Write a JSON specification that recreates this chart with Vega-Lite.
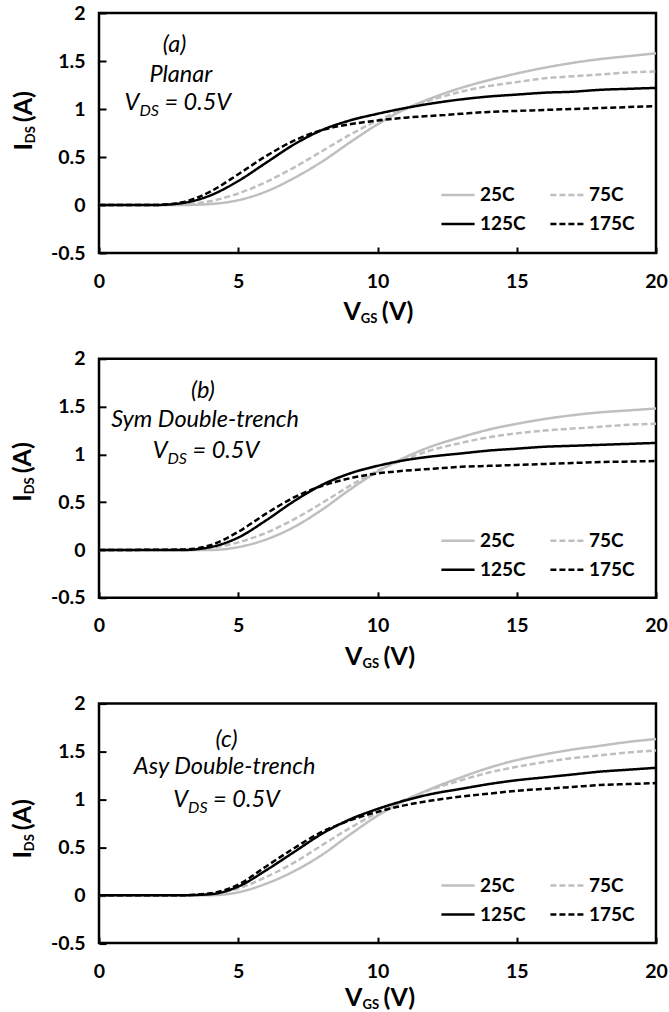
{
"$schema":"https://vega.github.io/schema/vega-lite/v6.json",
"background":"white",
"padding":{"left":9,"top":1,"right":0,"bottom":0},
"spacing":105.8,
"bounds":"flush",
"resolve":{"scale":{"stroke":"independent","strokeDash":"independent"},"legend":{"stroke":"independent","strokeDash":"independent"}},
"config":{
 "font":"Lato",
 "view":{"stroke":"black","strokeWidth":2.5},
 "axis":{"grid":false,"domain":false,"tickColor":"black","tickWidth":2,"labelFont":"Lato","labelFontWeight":"bold","labelFontSize":19.5,"labelColor":"black","labelFlush":false,"labelOverlap":false},
 "legend":{"orient":"none","legendX":341,"legendY":164,"columns":2,"direction":"horizontal","symbolType":"stroke","symbolSize":1100,"symbolStrokeWidth":2.5,"labelFont":"Lato","labelFontWeight":"bold","labelFontSize":19,"labelColor":"black","labelOffset":4,"columnPadding":19,"rowPadding":1,"padding":0}
},
"datasets":{
"curves":[
{"p":"a","T":"25C","x":0,"y":0},{"p":"a","T":"25C","x":3,"y":0},{"p":"a","T":"25C","x":4,"y":0.01},{"p":"a","T":"25C","x":5,"y":0.05},{"p":"a","T":"25C","x":6,"y":0.14},{"p":"a","T":"25C","x":7,"y":0.28},{"p":"a","T":"25C","x":8,"y":0.45},{"p":"a","T":"25C","x":9,"y":0.65},{"p":"a","T":"25C","x":10,"y":0.84},{"p":"a","T":"25C","x":11,"y":1.0},{"p":"a","T":"25C","x":12,"y":1.12},{"p":"a","T":"25C","x":13,"y":1.22},{"p":"a","T":"25C","x":14,"y":1.3},{"p":"a","T":"25C","x":15,"y":1.37},{"p":"a","T":"25C","x":16,"y":1.43},{"p":"a","T":"25C","x":17,"y":1.48},{"p":"a","T":"25C","x":18,"y":1.52},{"p":"a","T":"25C","x":19,"y":1.55},{"p":"a","T":"25C","x":20,"y":1.58},
{"p":"a","T":"75C","x":0,"y":0},{"p":"a","T":"75C","x":2.5,"y":0},{"p":"a","T":"75C","x":3,"y":0.005},{"p":"a","T":"75C","x":4,"y":0.04},{"p":"a","T":"75C","x":5,"y":0.12},{"p":"a","T":"75C","x":6,"y":0.24},{"p":"a","T":"75C","x":7,"y":0.39},{"p":"a","T":"75C","x":8,"y":0.56},{"p":"a","T":"75C","x":9,"y":0.73},{"p":"a","T":"75C","x":10,"y":0.88},{"p":"a","T":"75C","x":11,"y":1.0},{"p":"a","T":"75C","x":12,"y":1.1},{"p":"a","T":"75C","x":13,"y":1.18},{"p":"a","T":"75C","x":14,"y":1.24},{"p":"a","T":"75C","x":15,"y":1.28},{"p":"a","T":"75C","x":16,"y":1.32},{"p":"a","T":"75C","x":17,"y":1.34},{"p":"a","T":"75C","x":18,"y":1.36},{"p":"a","T":"75C","x":19,"y":1.38},{"p":"a","T":"75C","x":20,"y":1.39},
{"p":"a","T":"125C","x":0,"y":0},{"p":"a","T":"125C","x":2,"y":0},{"p":"a","T":"125C","x":3,"y":0.02},{"p":"a","T":"125C","x":4,"y":0.1},{"p":"a","T":"125C","x":5,"y":0.25},{"p":"a","T":"125C","x":6,"y":0.44},{"p":"a","T":"125C","x":7,"y":0.63},{"p":"a","T":"125C","x":8,"y":0.78},{"p":"a","T":"125C","x":9,"y":0.88},{"p":"a","T":"125C","x":10,"y":0.95},{"p":"a","T":"125C","x":11,"y":1.01},{"p":"a","T":"125C","x":12,"y":1.06},{"p":"a","T":"125C","x":13,"y":1.1},{"p":"a","T":"125C","x":14,"y":1.13},{"p":"a","T":"125C","x":15,"y":1.15},{"p":"a","T":"125C","x":16,"y":1.17},{"p":"a","T":"125C","x":17,"y":1.18},{"p":"a","T":"125C","x":18,"y":1.2},{"p":"a","T":"125C","x":19,"y":1.21},{"p":"a","T":"125C","x":20,"y":1.22},
{"p":"a","T":"175C","x":0,"y":0},{"p":"a","T":"175C","x":2,"y":0},{"p":"a","T":"175C","x":3,"y":0.03},{"p":"a","T":"175C","x":4,"y":0.14},{"p":"a","T":"175C","x":5,"y":0.32},{"p":"a","T":"175C","x":6,"y":0.51},{"p":"a","T":"175C","x":7,"y":0.67},{"p":"a","T":"175C","x":8,"y":0.78},{"p":"a","T":"175C","x":9,"y":0.84},{"p":"a","T":"175C","x":10,"y":0.88},{"p":"a","T":"175C","x":11,"y":0.91},{"p":"a","T":"175C","x":12,"y":0.93},{"p":"a","T":"175C","x":13,"y":0.95},{"p":"a","T":"175C","x":14,"y":0.97},{"p":"a","T":"175C","x":15,"y":0.98},{"p":"a","T":"175C","x":16,"y":0.99},{"p":"a","T":"175C","x":17,"y":1.0},{"p":"a","T":"175C","x":18,"y":1.01},{"p":"a","T":"175C","x":19,"y":1.02},{"p":"a","T":"175C","x":20,"y":1.03},
{"p":"b","T":"25C","x":0,"y":0},{"p":"b","T":"25C","x":4,"y":0},{"p":"b","T":"25C","x":5,"y":0.03},{"p":"b","T":"25C","x":6,"y":0.11},{"p":"b","T":"25C","x":7,"y":0.24},{"p":"b","T":"25C","x":8,"y":0.42},{"p":"b","T":"25C","x":9,"y":0.63},{"p":"b","T":"25C","x":10,"y":0.82},{"p":"b","T":"25C","x":11,"y":0.97},{"p":"b","T":"25C","x":12,"y":1.09},{"p":"b","T":"25C","x":13,"y":1.18},{"p":"b","T":"25C","x":14,"y":1.26},{"p":"b","T":"25C","x":15,"y":1.32},{"p":"b","T":"25C","x":16,"y":1.37},{"p":"b","T":"25C","x":17,"y":1.41},{"p":"b","T":"25C","x":18,"y":1.44},{"p":"b","T":"25C","x":19,"y":1.46},{"p":"b","T":"25C","x":20,"y":1.48},
{"p":"b","T":"75C","x":0,"y":0},{"p":"b","T":"75C","x":3.5,"y":0},{"p":"b","T":"75C","x":4,"y":0.02},{"p":"b","T":"75C","x":5,"y":0.08},{"p":"b","T":"75C","x":6,"y":0.18},{"p":"b","T":"75C","x":7,"y":0.32},{"p":"b","T":"75C","x":8,"y":0.49},{"p":"b","T":"75C","x":9,"y":0.67},{"p":"b","T":"75C","x":10,"y":0.83},{"p":"b","T":"75C","x":11,"y":0.95},{"p":"b","T":"75C","x":12,"y":1.05},{"p":"b","T":"75C","x":13,"y":1.12},{"p":"b","T":"75C","x":14,"y":1.18},{"p":"b","T":"75C","x":15,"y":1.22},{"p":"b","T":"75C","x":16,"y":1.25},{"p":"b","T":"75C","x":17,"y":1.27},{"p":"b","T":"75C","x":18,"y":1.29},{"p":"b","T":"75C","x":19,"y":1.31},{"p":"b","T":"75C","x":20,"y":1.32},
{"p":"b","T":"125C","x":0,"y":0},{"p":"b","T":"125C","x":3,"y":0},{"p":"b","T":"125C","x":4,"y":0.03},{"p":"b","T":"125C","x":5,"y":0.13},{"p":"b","T":"125C","x":6,"y":0.31},{"p":"b","T":"125C","x":7,"y":0.51},{"p":"b","T":"125C","x":8,"y":0.68},{"p":"b","T":"125C","x":9,"y":0.8},{"p":"b","T":"125C","x":10,"y":0.88},{"p":"b","T":"125C","x":11,"y":0.94},{"p":"b","T":"125C","x":12,"y":0.98},{"p":"b","T":"125C","x":13,"y":1.01},{"p":"b","T":"125C","x":14,"y":1.04},{"p":"b","T":"125C","x":15,"y":1.06},{"p":"b","T":"125C","x":16,"y":1.08},{"p":"b","T":"125C","x":17,"y":1.09},{"p":"b","T":"125C","x":18,"y":1.1},{"p":"b","T":"125C","x":19,"y":1.11},{"p":"b","T":"125C","x":20,"y":1.12},
{"p":"b","T":"175C","x":0,"y":0},{"p":"b","T":"175C","x":3,"y":0.005},{"p":"b","T":"175C","x":4,"y":0.05},{"p":"b","T":"175C","x":5,"y":0.19},{"p":"b","T":"175C","x":6,"y":0.38},{"p":"b","T":"175C","x":7,"y":0.55},{"p":"b","T":"175C","x":8,"y":0.67},{"p":"b","T":"175C","x":9,"y":0.75},{"p":"b","T":"175C","x":10,"y":0.8},{"p":"b","T":"175C","x":11,"y":0.83},{"p":"b","T":"175C","x":12,"y":0.85},{"p":"b","T":"175C","x":13,"y":0.87},{"p":"b","T":"175C","x":14,"y":0.88},{"p":"b","T":"175C","x":15,"y":0.89},{"p":"b","T":"175C","x":16,"y":0.9},{"p":"b","T":"175C","x":17,"y":0.91},{"p":"b","T":"175C","x":18,"y":0.92},{"p":"b","T":"175C","x":19,"y":0.925},{"p":"b","T":"175C","x":20,"y":0.93},
{"p":"c","T":"25C","x":0,"y":0},{"p":"c","T":"25C","x":4,"y":0},{"p":"c","T":"25C","x":5,"y":0.03},{"p":"c","T":"25C","x":6,"y":0.12},{"p":"c","T":"25C","x":7,"y":0.25},{"p":"c","T":"25C","x":8,"y":0.42},{"p":"c","T":"25C","x":9,"y":0.63},{"p":"c","T":"25C","x":10,"y":0.83},{"p":"c","T":"25C","x":11,"y":0.99},{"p":"c","T":"25C","x":12,"y":1.12},{"p":"c","T":"25C","x":13,"y":1.23},{"p":"c","T":"25C","x":14,"y":1.33},{"p":"c","T":"25C","x":15,"y":1.41},{"p":"c","T":"25C","x":16,"y":1.47},{"p":"c","T":"25C","x":17,"y":1.52},{"p":"c","T":"25C","x":18,"y":1.56},{"p":"c","T":"25C","x":19,"y":1.6},{"p":"c","T":"25C","x":20,"y":1.63},
{"p":"c","T":"75C","x":0,"y":0},{"p":"c","T":"75C","x":3.5,"y":0},{"p":"c","T":"75C","x":4,"y":0.01},{"p":"c","T":"75C","x":5,"y":0.07},{"p":"c","T":"75C","x":6,"y":0.19},{"p":"c","T":"75C","x":7,"y":0.34},{"p":"c","T":"75C","x":8,"y":0.52},{"p":"c","T":"75C","x":9,"y":0.7},{"p":"c","T":"75C","x":10,"y":0.86},{"p":"c","T":"75C","x":11,"y":1.0},{"p":"c","T":"75C","x":12,"y":1.11},{"p":"c","T":"75C","x":13,"y":1.2},{"p":"c","T":"75C","x":14,"y":1.28},{"p":"c","T":"75C","x":15,"y":1.34},{"p":"c","T":"75C","x":16,"y":1.39},{"p":"c","T":"75C","x":17,"y":1.43},{"p":"c","T":"75C","x":18,"y":1.46},{"p":"c","T":"75C","x":19,"y":1.49},{"p":"c","T":"75C","x":20,"y":1.51},
{"p":"c","T":"125C","x":0,"y":0},{"p":"c","T":"125C","x":3,"y":0},{"p":"c","T":"125C","x":4,"y":0.01},{"p":"c","T":"125C","x":5,"y":0.09},{"p":"c","T":"125C","x":6,"y":0.26},{"p":"c","T":"125C","x":7,"y":0.45},{"p":"c","T":"125C","x":8,"y":0.64},{"p":"c","T":"125C","x":9,"y":0.79},{"p":"c","T":"125C","x":10,"y":0.9},{"p":"c","T":"125C","x":11,"y":0.99},{"p":"c","T":"125C","x":12,"y":1.06},{"p":"c","T":"125C","x":13,"y":1.11},{"p":"c","T":"125C","x":14,"y":1.16},{"p":"c","T":"125C","x":15,"y":1.2},{"p":"c","T":"125C","x":16,"y":1.23},{"p":"c","T":"125C","x":17,"y":1.26},{"p":"c","T":"125C","x":18,"y":1.29},{"p":"c","T":"125C","x":19,"y":1.31},{"p":"c","T":"125C","x":20,"y":1.33},
{"p":"c","T":"175C","x":0,"y":0},{"p":"c","T":"175C","x":3,"y":0},{"p":"c","T":"175C","x":4,"y":0.02},{"p":"c","T":"175C","x":5,"y":0.11},{"p":"c","T":"175C","x":6,"y":0.3},{"p":"c","T":"175C","x":7,"y":0.49},{"p":"c","T":"175C","x":8,"y":0.66},{"p":"c","T":"175C","x":9,"y":0.78},{"p":"c","T":"175C","x":10,"y":0.87},{"p":"c","T":"175C","x":11,"y":0.94},{"p":"c","T":"175C","x":12,"y":0.99},{"p":"c","T":"175C","x":13,"y":1.03},{"p":"c","T":"175C","x":14,"y":1.06},{"p":"c","T":"175C","x":15,"y":1.09},{"p":"c","T":"175C","x":16,"y":1.11},{"p":"c","T":"175C","x":17,"y":1.13},{"p":"c","T":"175C","x":18,"y":1.15},{"p":"c","T":"175C","x":19,"y":1.16},{"p":"c","T":"175C","x":20,"y":1.17}
],
"notes":[
{"p":"a","r":"tag","x":2.71,"y":1.59,"t":"(a)"},
{"p":"a","r":"tag","x":2.94,"y":1.278,"t":"Planar"},
{"p":"a","r":"big","x":1.45,"y":0.993,"t":"V"},
{"p":"a","r":"sub","x":1.45,"y":0.993,"t":"DS"},
{"p":"a","r":"rest","x":1.45,"y":0.993,"t":"= 0.5V"},
{"p":"a","r":"xbig","x":9.4,"y":-1.2,"t":"V"},
{"p":"a","r":"xsub","x":9.4,"y":-1.2,"t":"GS"},
{"p":"a","r":"xrest","x":9.4,"y":-1.2,"t":"(V)"},
{"p":"a","r":"ybig","x":-2.4,"y":0.644,"t":"I"},
{"p":"a","r":"ysub","x":-2.4,"y":0.644,"t":"DS"},
{"p":"a","r":"yrest","x":-2.4,"y":0.644,"t":"(A)"},
{"p":"b","r":"tag","x":3.73,"y":1.59,"t":"(b)"},
{"p":"b","r":"tag","x":3.81,"y":1.29,"t":"Sym Double-trench"},
{"p":"b","r":"big","x":2.46,"y":0.958,"t":"V"},
{"p":"b","r":"sub","x":2.46,"y":0.958,"t":"DS"},
{"p":"b","r":"rest","x":2.46,"y":0.958,"t":"= 0.5V"},
{"p":"b","r":"xbig","x":9.46,"y":-1.2,"t":"V"},
{"p":"b","r":"xsub","x":9.46,"y":-1.2,"t":"GS"},
{"p":"b","r":"xrest","x":9.46,"y":-1.2,"t":"(V)"},
{"p":"b","r":"ybig","x":-2.45,"y":0.583,"t":"I"},
{"p":"b","r":"ysub","x":-2.45,"y":0.583,"t":"DS"},
{"p":"b","r":"yrest","x":-2.45,"y":0.583,"t":"(A)"},
{"p":"c","r":"tag","x":4.58,"y":1.55,"t":"(c)"},
{"p":"c","r":"tag","x":4.51,"y":1.26,"t":"Asy Double-trench"},
{"p":"c","r":"big","x":3.2,"y":0.92,"t":"V"},
{"p":"c","r":"sub","x":3.2,"y":0.92,"t":"DS"},
{"p":"c","r":"rest","x":3.2,"y":0.92,"t":"= 0.5V"},
{"p":"c","r":"xbig","x":9.46,"y":-1.155,"t":"V"},
{"p":"c","r":"xsub","x":9.46,"y":-1.155,"t":"GS"},
{"p":"c","r":"xrest","x":9.46,"y":-1.155,"t":"(V)"},
{"p":"c","r":"ybig","x":-2.45,"y":0.46,"t":"I"},
{"p":"c","r":"ysub","x":-2.45,"y":0.46,"t":"DS"},
{"p":"c","r":"yrest","x":-2.45,"y":0.46,"t":"(A)"}
]
},
"vconcat":[
{"width":557,"height":240,"layer":[
 {"data":{"name":"curves"},"transform":[{"filter":"datum.p==='a'"}],"mark":{"type":"line","interpolate":"monotone","strokeWidth":2.5},"encoding":{
  "x":{"field":"x","type":"quantitative","scale":{"domain":[0,20],"nice":false},"axis":{"values":[0,5,10,15,20],"tickSize":-6,"labelPadding":25,"title":null}},
  "y":{"field":"y","type":"quantitative","scale":{"domain":[-0.5,2],"nice":false},"axis":{"values":[-0.5,0,0.5,1,1.5,2],"tickSize":-7,"labelPadding":21,"labelExpr":"''+datum.value","title":null}},
  "stroke":{"field":"T","type":"nominal","scale":{"domain":["25C","75C","125C","175C"],"range":["#bfbfbf","#bfbfbf","#000000","#000000"]},"legend":{"title":null}},
  "strokeDash":{"field":"T","type":"nominal","scale":{"domain":["25C","75C","125C","175C"],"range":[[1,0],[6,3],[1,0],[6,3]]},"legend":{"title":null}}}},
 {"data":{"name":"notes"},"transform":[{"filter":"datum.p==='a'&&datum.r==='tag'"}],"mark":{"type":"text","font":"Lato","fontSize":23.5,"fontStyle":"italic","align":"center","baseline":"alphabetic","color":"black"},"encoding":{"x":{"field":"x","type":"quantitative"},"y":{"field":"y","type":"quantitative"},"text":{"field":"t"}}},
 {"data":{"name":"notes"},"transform":[{"filter":"datum.p==='a'&&datum.r==='big'"}],"mark":{"type":"text","font":"Lato","fontSize":23.5,"fontStyle":"italic","align":"right","baseline":"alphabetic","color":"black"},"encoding":{"x":{"field":"x","type":"quantitative"},"y":{"field":"y","type":"quantitative"},"text":{"field":"t"}}},
 {"data":{"name":"notes"},"transform":[{"filter":"datum.p==='a'&&datum.r==='sub'"}],"mark":{"type":"text","font":"Lato","fontSize":16,"fontStyle":"italic","align":"left","baseline":"alphabetic","dy":6,"color":"black"},"encoding":{"x":{"field":"x","type":"quantitative"},"y":{"field":"y","type":"quantitative"},"text":{"field":"t"}}},
 {"data":{"name":"notes"},"transform":[{"filter":"datum.p==='a'&&datum.r==='rest'"}],"mark":{"type":"text","font":"Lato","fontSize":23.5,"fontStyle":"italic","align":"left","baseline":"alphabetic","dx":25,"color":"black"},"encoding":{"x":{"field":"x","type":"quantitative"},"y":{"field":"y","type":"quantitative"},"text":{"field":"t"}}},
 {"data":{"name":"notes"},"transform":[{"filter":"datum.p==='a'&&datum.r==='xbig'"}],"mark":{"type":"text","font":"Lato","fontSize":25,"fontWeight":"bold","align":"right","baseline":"alphabetic","color":"black"},"encoding":{"x":{"field":"x","type":"quantitative"},"y":{"field":"y","type":"quantitative"},"text":{"field":"t"}}},
 {"data":{"name":"notes"},"transform":[{"filter":"datum.p==='a'&&datum.r==='xsub'"}],"mark":{"type":"text","font":"Lato","fontSize":13,"fontWeight":"bold","align":"left","baseline":"alphabetic","dy":3,"color":"black"},"encoding":{"x":{"field":"x","type":"quantitative"},"y":{"field":"y","type":"quantitative"},"text":{"field":"t"}}},
 {"data":{"name":"notes"},"transform":[{"filter":"datum.p==='a'&&datum.r==='xrest'"}],"mark":{"type":"text","font":"Lato","fontSize":25,"fontWeight":"bold","align":"left","baseline":"alphabetic","dx":21,"color":"black"},"encoding":{"x":{"field":"x","type":"quantitative"},"y":{"field":"y","type":"quantitative"},"text":{"field":"t"}}},
 {"data":{"name":"notes"},"transform":[{"filter":"datum.p==='a'&&datum.r==='ybig'"}],"mark":{"type":"text","font":"Lato","fontSize":25,"fontWeight":"bold","align":"right","baseline":"alphabetic","angle":270,"color":"black"},"encoding":{"x":{"field":"x","type":"quantitative"},"y":{"field":"y","type":"quantitative"},"text":{"field":"t"}}},
 {"data":{"name":"notes"},"transform":[{"filter":"datum.p==='a'&&datum.r==='ysub'"}],"mark":{"type":"text","font":"Lato","fontSize":13,"fontWeight":"bold","align":"left","baseline":"alphabetic","angle":270,"dy":3,"color":"black"},"encoding":{"x":{"field":"x","type":"quantitative"},"y":{"field":"y","type":"quantitative"},"text":{"field":"t"}}},
 {"data":{"name":"notes"},"transform":[{"filter":"datum.p==='a'&&datum.r==='yrest'"}],"mark":{"type":"text","font":"Lato","fontSize":25,"fontWeight":"bold","align":"left","baseline":"alphabetic","angle":270,"dx":21,"color":"black"},"encoding":{"x":{"field":"x","type":"quantitative"},"y":{"field":"y","type":"quantitative"},"text":{"field":"t"}}}
]},
{"width":557,"height":239,"layer":[
 {"data":{"name":"curves"},"transform":[{"filter":"datum.p==='b'"}],"mark":{"type":"line","interpolate":"monotone","strokeWidth":2.5},"encoding":{
  "x":{"field":"x","type":"quantitative","scale":{"domain":[0,20],"nice":false},"axis":{"values":[0,5,10,15,20],"tickSize":-6,"labelPadding":25,"title":null}},
  "y":{"field":"y","type":"quantitative","scale":{"domain":[-0.5,2],"nice":false},"axis":{"values":[-0.5,0,0.5,1,1.5,2],"tickSize":-7,"labelPadding":21,"labelExpr":"''+datum.value","title":null}},
  "stroke":{"field":"T","type":"nominal","scale":{"domain":["25C","75C","125C","175C"],"range":["#bfbfbf","#bfbfbf","#000000","#000000"]},"legend":{"title":null}},
  "strokeDash":{"field":"T","type":"nominal","scale":{"domain":["25C","75C","125C","175C"],"range":[[1,0],[6,3],[1,0],[6,3]]},"legend":{"title":null}}}},
 {"data":{"name":"notes"},"transform":[{"filter":"datum.p==='b'&&datum.r==='tag'"}],"mark":{"type":"text","font":"Lato","fontSize":23.5,"fontStyle":"italic","align":"center","baseline":"alphabetic","color":"black"},"encoding":{"x":{"field":"x","type":"quantitative"},"y":{"field":"y","type":"quantitative"},"text":{"field":"t"}}},
 {"data":{"name":"notes"},"transform":[{"filter":"datum.p==='b'&&datum.r==='big'"}],"mark":{"type":"text","font":"Lato","fontSize":23.5,"fontStyle":"italic","align":"right","baseline":"alphabetic","color":"black"},"encoding":{"x":{"field":"x","type":"quantitative"},"y":{"field":"y","type":"quantitative"},"text":{"field":"t"}}},
 {"data":{"name":"notes"},"transform":[{"filter":"datum.p==='b'&&datum.r==='sub'"}],"mark":{"type":"text","font":"Lato","fontSize":16,"fontStyle":"italic","align":"left","baseline":"alphabetic","dy":6,"color":"black"},"encoding":{"x":{"field":"x","type":"quantitative"},"y":{"field":"y","type":"quantitative"},"text":{"field":"t"}}},
 {"data":{"name":"notes"},"transform":[{"filter":"datum.p==='b'&&datum.r==='rest'"}],"mark":{"type":"text","font":"Lato","fontSize":23.5,"fontStyle":"italic","align":"left","baseline":"alphabetic","dx":25,"color":"black"},"encoding":{"x":{"field":"x","type":"quantitative"},"y":{"field":"y","type":"quantitative"},"text":{"field":"t"}}},
 {"data":{"name":"notes"},"transform":[{"filter":"datum.p==='b'&&datum.r==='xbig'"}],"mark":{"type":"text","font":"Lato","fontSize":25,"fontWeight":"bold","align":"right","baseline":"alphabetic","color":"black"},"encoding":{"x":{"field":"x","type":"quantitative"},"y":{"field":"y","type":"quantitative"},"text":{"field":"t"}}},
 {"data":{"name":"notes"},"transform":[{"filter":"datum.p==='b'&&datum.r==='xsub'"}],"mark":{"type":"text","font":"Lato","fontSize":13,"fontWeight":"bold","align":"left","baseline":"alphabetic","dy":3,"color":"black"},"encoding":{"x":{"field":"x","type":"quantitative"},"y":{"field":"y","type":"quantitative"},"text":{"field":"t"}}},
 {"data":{"name":"notes"},"transform":[{"filter":"datum.p==='b'&&datum.r==='xrest'"}],"mark":{"type":"text","font":"Lato","fontSize":25,"fontWeight":"bold","align":"left","baseline":"alphabetic","dx":21,"color":"black"},"encoding":{"x":{"field":"x","type":"quantitative"},"y":{"field":"y","type":"quantitative"},"text":{"field":"t"}}},
 {"data":{"name":"notes"},"transform":[{"filter":"datum.p==='b'&&datum.r==='ybig'"}],"mark":{"type":"text","font":"Lato","fontSize":25,"fontWeight":"bold","align":"right","baseline":"alphabetic","angle":270,"color":"black"},"encoding":{"x":{"field":"x","type":"quantitative"},"y":{"field":"y","type":"quantitative"},"text":{"field":"t"}}},
 {"data":{"name":"notes"},"transform":[{"filter":"datum.p==='b'&&datum.r==='ysub'"}],"mark":{"type":"text","font":"Lato","fontSize":13,"fontWeight":"bold","align":"left","baseline":"alphabetic","angle":270,"dy":3,"color":"black"},"encoding":{"x":{"field":"x","type":"quantitative"},"y":{"field":"y","type":"quantitative"},"text":{"field":"t"}}},
 {"data":{"name":"notes"},"transform":[{"filter":"datum.p==='b'&&datum.r==='yrest'"}],"mark":{"type":"text","font":"Lato","fontSize":25,"fontWeight":"bold","align":"left","baseline":"alphabetic","angle":270,"dx":21,"color":"black"},"encoding":{"x":{"field":"x","type":"quantitative"},"y":{"field":"y","type":"quantitative"},"text":{"field":"t"}}}
]},
{"width":557,"height":239.5,"layer":[
 {"data":{"name":"curves"},"transform":[{"filter":"datum.p==='c'"}],"mark":{"type":"line","interpolate":"monotone","strokeWidth":2.5},"encoding":{
  "x":{"field":"x","type":"quantitative","scale":{"domain":[0,20],"nice":false},"axis":{"values":[0,5,10,15,20],"tickSize":-6,"labelPadding":25,"title":null}},
  "y":{"field":"y","type":"quantitative","scale":{"domain":[-0.5,2],"nice":false},"axis":{"values":[-0.5,0,0.5,1,1.5,2],"tickSize":-7,"labelPadding":21,"labelExpr":"''+datum.value","title":null}},
  "stroke":{"field":"T","type":"nominal","scale":{"domain":["25C","75C","125C","175C"],"range":["#bfbfbf","#bfbfbf","#000000","#000000"]},"legend":{"title":null}},
  "strokeDash":{"field":"T","type":"nominal","scale":{"domain":["25C","75C","125C","175C"],"range":[[1,0],[6,3],[1,0],[6,3]]},"legend":{"title":null}}}},
 {"data":{"name":"notes"},"transform":[{"filter":"datum.p==='c'&&datum.r==='tag'"}],"mark":{"type":"text","font":"Lato","fontSize":23.5,"fontStyle":"italic","align":"center","baseline":"alphabetic","color":"black"},"encoding":{"x":{"field":"x","type":"quantitative"},"y":{"field":"y","type":"quantitative"},"text":{"field":"t"}}},
 {"data":{"name":"notes"},"transform":[{"filter":"datum.p==='c'&&datum.r==='big'"}],"mark":{"type":"text","font":"Lato","fontSize":23.5,"fontStyle":"italic","align":"right","baseline":"alphabetic","color":"black"},"encoding":{"x":{"field":"x","type":"quantitative"},"y":{"field":"y","type":"quantitative"},"text":{"field":"t"}}},
 {"data":{"name":"notes"},"transform":[{"filter":"datum.p==='c'&&datum.r==='sub'"}],"mark":{"type":"text","font":"Lato","fontSize":16,"fontStyle":"italic","align":"left","baseline":"alphabetic","dy":6,"color":"black"},"encoding":{"x":{"field":"x","type":"quantitative"},"y":{"field":"y","type":"quantitative"},"text":{"field":"t"}}},
 {"data":{"name":"notes"},"transform":[{"filter":"datum.p==='c'&&datum.r==='rest'"}],"mark":{"type":"text","font":"Lato","fontSize":23.5,"fontStyle":"italic","align":"left","baseline":"alphabetic","dx":25,"color":"black"},"encoding":{"x":{"field":"x","type":"quantitative"},"y":{"field":"y","type":"quantitative"},"text":{"field":"t"}}},
 {"data":{"name":"notes"},"transform":[{"filter":"datum.p==='c'&&datum.r==='xbig'"}],"mark":{"type":"text","font":"Lato","fontSize":25,"fontWeight":"bold","align":"right","baseline":"alphabetic","color":"black"},"encoding":{"x":{"field":"x","type":"quantitative"},"y":{"field":"y","type":"quantitative"},"text":{"field":"t"}}},
 {"data":{"name":"notes"},"transform":[{"filter":"datum.p==='c'&&datum.r==='xsub'"}],"mark":{"type":"text","font":"Lato","fontSize":13,"fontWeight":"bold","align":"left","baseline":"alphabetic","dy":3,"color":"black"},"encoding":{"x":{"field":"x","type":"quantitative"},"y":{"field":"y","type":"quantitative"},"text":{"field":"t"}}},
 {"data":{"name":"notes"},"transform":[{"filter":"datum.p==='c'&&datum.r==='xrest'"}],"mark":{"type":"text","font":"Lato","fontSize":25,"fontWeight":"bold","align":"left","baseline":"alphabetic","dx":21,"color":"black"},"encoding":{"x":{"field":"x","type":"quantitative"},"y":{"field":"y","type":"quantitative"},"text":{"field":"t"}}},
 {"data":{"name":"notes"},"transform":[{"filter":"datum.p==='c'&&datum.r==='ybig'"}],"mark":{"type":"text","font":"Lato","fontSize":25,"fontWeight":"bold","align":"right","baseline":"alphabetic","angle":270,"color":"black"},"encoding":{"x":{"field":"x","type":"quantitative"},"y":{"field":"y","type":"quantitative"},"text":{"field":"t"}}},
 {"data":{"name":"notes"},"transform":[{"filter":"datum.p==='c'&&datum.r==='ysub'"}],"mark":{"type":"text","font":"Lato","fontSize":13,"fontWeight":"bold","align":"left","baseline":"alphabetic","angle":270,"dy":3,"color":"black"},"encoding":{"x":{"field":"x","type":"quantitative"},"y":{"field":"y","type":"quantitative"},"text":{"field":"t"}}},
 {"data":{"name":"notes"},"transform":[{"filter":"datum.p==='c'&&datum.r==='yrest'"}],"mark":{"type":"text","font":"Lato","fontSize":25,"fontWeight":"bold","align":"left","baseline":"alphabetic","angle":270,"dx":21,"color":"black"},"encoding":{"x":{"field":"x","type":"quantitative"},"y":{"field":"y","type":"quantitative"},"text":{"field":"t"}}}
]}
]
}
